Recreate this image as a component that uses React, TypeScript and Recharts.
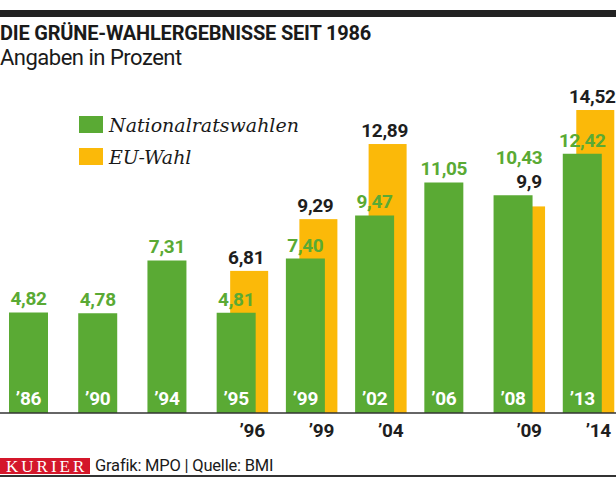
import React from "react";
import { BarChart, Bar, XAxis, YAxis, LabelList, ReferenceLine } from "recharts";

// ---- data ----
const categories = ["’86", "’90", "’94", "’95", "’99", "’02", "’06", "’08", "’13"];
const nationalratswahlen = [4.82, 4.78, 7.31, 4.81, 7.4, 9.47, 11.05, 10.43, 12.42];
const nationalratsLabels = ["4,82", "4,78", "7,31", "4,81", "7,40", "9,47", "11,05", "10,43", "12,42"];
const euWahl: (number | null)[] = [null, null, null, 6.81, 9.29, 12.89, null, 9.9, 14.52];
const euWahlLabels: (string | null)[] = [null, null, null, "6,81", "9,29", "12,89", null, "9,9", "14,52"];
const euYears: (string | null)[] = [null, null, null, "’96", "’99", "’04", null, "’09", "’14"];

const data = categories.map((cat, i) => ({
  cat,
  nr: nationalratswahlen[i],
  nrLabel: nationalratsLabels[i],
  eu: euWahl[i],
  euLabel: euWahlLabels[i],
  euYear: euYears[i],
}));

// ---- styles ----
const GREEN = "#5aaa34";
const ORANGE = "#fbb909";
const DARK = "#1e1e1e";
const EU_SHIFT = 12.5;
const LABEL_FONT = "Roboto, 'Noto Sans', sans-serif";
const labelStyle = { fontFamily: LABEL_FONT, fontWeight: 700, fontSize: 19, letterSpacing: -0.3 };

// small label nudges to avoid collisions (style only), keyed by category
const nrNudge: Record<string, { dx: number; dy: number }> = { "’08": { dx: 6, dy: -24 } };
const euNudge: Record<string, { dx: number; dy: number }> = { "’09": { dx: 6, dy: -11 } };

const rect = (p: any) => {
  const vb = p.viewBox || p;
  return { x: vb.x ?? p.x, y: vb.y ?? p.y, w: vb.width ?? p.width, h: vb.height ?? p.height };
};

const NrValueLabel = (p: any) => {
  const label = p.value;
  if (label == null) return null;
  const i = nationalratsLabels.indexOf(label);
  const { x, y, w } = rect(p);
  const n = nrNudge[categories[i]] || { dx: 0, dy: 0 };
  return (
    <text x={x + w / 2 + n.dx} y={y - 7 + n.dy} textAnchor="middle" fill={GREEN} style={labelStyle}>
      {label}
    </text>
  );
};

const NrCatLabel = (p: any) => {
  if (p.value == null) return null;
  const { x, y, w, h } = rect(p);
  return (
    <text x={x + w / 2} y={y + h - 8} textAnchor="middle" fill="#ffffff" style={labelStyle}>
      {p.value}
    </text>
  );
};

const EuValueLabel = (p: any) => {
  const label = p.value;
  if (label == null) return null;
  const i = euWahlLabels.indexOf(label);
  const { x, y, w } = rect(p);
  const n = euNudge[euYears[i] as string] || { dx: 0, dy: 0 };
  return (
    <text x={x + w / 2 + EU_SHIFT - 3 + n.dx} y={y - 7 + n.dy} textAnchor="middle" fill={DARK} style={labelStyle}>
      {label}
    </text>
  );
};

const EuYearLabel = (p: any) => {
  const label = p.value;
  if (label == null) return null;
  const { x, y, w, h } = rect(p);
  return (
    <text x={x + w / 2 + EU_SHIFT + 3} y={y + h + 24} textAnchor="middle" fill={DARK} style={labelStyle}>
      {label}
    </text>
  );
};

const EuShape = (p: any) => {
  if (p.value == null || !p.height) return <g />;
  return <rect x={p.x + EU_SHIFT} y={p.y} width={p.width} height={p.height} fill={ORANGE} />;
};

export default function App() {
  return (
    <div style={{ position: "absolute", left: 0, top: 0, width: 616, height: 477, overflow: "hidden", background: "#fff" }}>
      {/* top bar */}
      <div style={{ position: "absolute", left: 0, top: 10, width: 616, height: 7, background: "#222" }} />
      {/* title */}
      <div style={{ position: "absolute", left: 0, top: 23, fontFamily: LABEL_FONT, fontWeight: 700, fontSize: 20, lineHeight: "20px", letterSpacing: -0.2, color: "#1a1a1a", whiteSpace: "nowrap" }}>
        DIE GRÜNE-WAHLERGEBNISSE SEIT 1986
      </div>
      <div style={{ position: "absolute", left: 0, top: 47, fontFamily: LABEL_FONT, fontWeight: 400, fontSize: 22, lineHeight: "22px", letterSpacing: -0.5, color: "#1a1a1a", whiteSpace: "nowrap" }}>
        Angaben in Prozent
      </div>

      {/* chart */}
      <div style={{ position: "absolute", left: -6, top: 0 }}>
        <BarChart width={623} height={477} data={data} margin={{ top: 100, right: 0, bottom: 64, left: 0 }} barCategoryGap={0}>
          <XAxis xAxisId="n" dataKey="cat" hide />
          <XAxis xAxisId="e" dataKey="cat" hide />
          <YAxis domain={[0, 15]} hide />
          <Bar xAxisId="e" dataKey="eu" barSize={38} fill={ORANGE} shape={EuShape} isAnimationActive={false}>
            <LabelList dataKey="euLabel" content={EuValueLabel} />
            <LabelList dataKey="euYear" content={EuYearLabel} />
          </Bar>
          <Bar xAxisId="n" dataKey="nr" barSize={39} fill={GREEN} isAnimationActive={false}>
            <LabelList dataKey="nrLabel" content={NrValueLabel} />
            <LabelList dataKey="cat" content={NrCatLabel} />
          </Bar>
          <ReferenceLine xAxisId="n" y={0} stroke="#333" strokeWidth={1.5} />
        </BarChart>
      </div>

      {/* legend */}
      <div style={{ position: "absolute", left: 79, top: 116, width: 24, height: 17, background: GREEN }} />
      <div style={{ position: "absolute", left: 109, top: 112, fontFamily: "'DejaVu Serif', serif", fontStyle: "italic", fontSize: 19, lineHeight: "26px", color: "#1a1a1a", whiteSpace: "nowrap" }}>
        Nationalratswahlen
      </div>
      <div style={{ position: "absolute", left: 79, top: 148, width: 24, height: 17, background: ORANGE }} />
      <div style={{ position: "absolute", left: 109, top: 144, fontFamily: "'DejaVu Serif', serif", fontStyle: "italic", fontSize: 19, lineHeight: "26px", color: "#1a1a1a", whiteSpace: "nowrap" }}>
        EU-Wahl
      </div>

      {/* footer */}
      <div style={{ position: "absolute", left: 0, top: 458, width: 90, height: 16, background: "#d4172a" }} />
      <div style={{ position: "absolute", left: 6, top: 458, color: "#fff", fontFamily: "'Liberation Serif', serif", fontSize: 17, lineHeight: "17px", letterSpacing: 3, whiteSpace: "nowrap" }}>
        KURIER
      </div>
      <div style={{ position: "absolute", left: 95, top: 457, fontFamily: LABEL_FONT, fontSize: 16.5, lineHeight: "18px", letterSpacing: -0.2, color: "#1a1a1a", whiteSpace: "nowrap" }}>
        Grafik: MPO | Quelle: BMI
      </div>
      <div style={{ position: "absolute", left: 0, top: 475, width: 616, height: 2, background: "#333" }} />
    </div>
  );
}
